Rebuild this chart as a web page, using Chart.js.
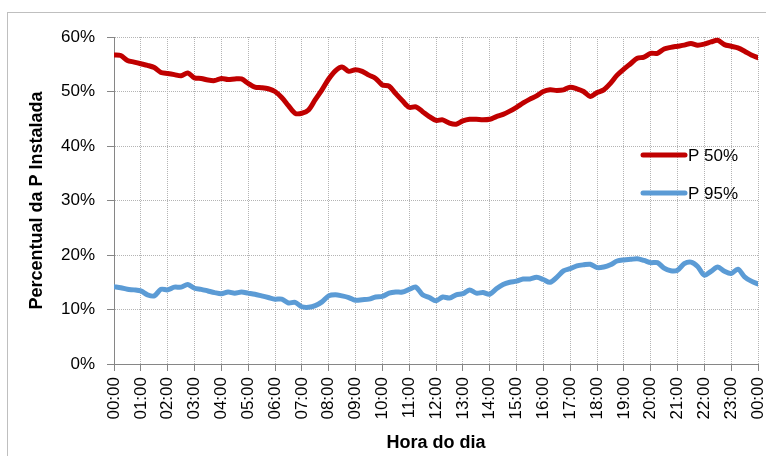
<!DOCTYPE html>
<html>
<head>
<meta charset="utf-8">
<script src="https://cdn.jsdelivr.net/npm/chart.js@4/dist/chart.umd.min.js"></script>
<style>
    body { margin: 0; background: #fff; }
    #wrap { position: relative; width: 766px; height: 456px; overflow: hidden; }
    #frame { position: absolute; left: 7px; top: 12px; width: 800px; height: 500px; border: 1px solid #bfbfbf; }
    #chart { position: absolute; left: 0; top: 0; }
</style>
</head>
<body>
<div id="wrap">
    <div id="frame"></div>
    <canvas id="chart" width="766" height="456"></canvas>
</div>
<script>
// rótulos das horas (eixo X)
const horas = ['00:00', '01:00', '02:00', '03:00', '04:00', '05:00', '06:00', '07:00', '08:00',
    '09:00', '10:00', '11:00', '12:00', '13:00', '14:00', '15:00', '16:00', '17:00',
    '18:00', '19:00', '20:00', '21:00', '22:00', '23:00', '00:00'];

// valores a cada 15 minutos, em %
const p50 = [
    56.7, 56.6, 55.7, 55.4, 55.1, 54.8, 54.4, 53.5, 53.3, 53.1, 52.9, 53.4, 52.5, 52.4, 52.1, 52.0,
    52.4, 52.2, 52.3, 52.3, 51.5, 50.8, 50.7, 50.5, 50.0, 48.9, 47.4, 46.0, 46.0, 46.6, 48.5, 50.3,
    52.3, 53.8, 54.5, 53.7, 54.0, 53.7, 53.0, 52.4, 51.2, 51.0, 49.6, 48.3, 47.1, 47.2, 46.3, 45.4,
    44.7, 44.8, 44.2, 44.0, 44.6, 44.9, 44.9, 44.8, 44.9, 45.4, 45.8, 46.4, 47.1, 47.9, 48.6, 49.2,
    50.0, 50.3, 50.2, 50.3, 50.8, 50.5, 50.0, 49.1, 49.8, 50.3, 51.5, 53.0, 54.1, 55.1, 56.1, 56.3,
    57.0, 57.0, 57.8, 58.1, 58.3, 58.5, 58.8, 58.5, 58.7, 59.1, 59.4, 58.6, 58.3, 58.0, 57.4, 56.7,
    56.2
];
const p95 = [
    14.2, 14.0, 13.7, 13.6, 13.4, 12.7, 12.5, 13.7, 13.6, 14.1, 14.1, 14.6, 13.9, 13.7, 13.4, 13.1,
    12.9, 13.2, 13.0, 13.2, 13.0, 12.8, 12.5, 12.2, 11.9, 11.9, 11.2, 11.3, 10.5, 10.4, 10.7, 11.4,
    12.5, 12.7, 12.5, 12.2, 11.7, 11.8, 11.9, 12.3, 12.4, 13.0, 13.2, 13.2, 13.7, 14.1, 12.7, 12.2,
    11.6, 12.3, 12.1, 12.7, 12.9, 13.6, 13.0, 13.1, 12.8, 13.8, 14.6, 15.0, 15.2, 15.6, 15.6, 15.9,
    15.5, 15.0, 15.9, 17.1, 17.5, 18.0, 18.2, 18.3, 17.7, 17.8, 18.2, 18.9, 19.1, 19.2, 19.3, 19.0,
    18.6, 18.6, 17.6, 17.1, 17.2, 18.4, 18.7, 17.9, 16.3, 17.0, 17.8, 17.0, 16.6, 17.4, 16.0, 15.2,
    14.7
];

const passoHoras = 0.25; // 15 minutos
const toPoints = arr => arr.map((v, i) => ({ x: i * passoHoras, y: v }));

const fonte = 'Liberation Sans, Arial, sans-serif';

// legenda desenhada dentro da área do gráfico (como no Excel)
const legendaInterna = {
    id: 'legendaInterna',
    afterDraw(chart) {
        const ctx = chart.ctx;
        const area = chart.chartArea;
        const x0 = area.right - 115;
        const ys = [area.top + 118, area.top + 156];
        ctx.save();
        chart.data.datasets.forEach((ds, i) => {
            ctx.strokeStyle = ds.borderColor;
            ctx.lineWidth = 5;
            ctx.lineCap = 'round';
            ctx.beginPath();
            ctx.moveTo(x0, ys[i]);
            ctx.lineTo(x0 + 42, ys[i]);
            ctx.stroke();
            ctx.fillStyle = '#000';
            ctx.font = '17px ' + fonte;
            ctx.textBaseline = 'middle';
            ctx.fillText(ds.label, x0 + 45, ys[i] + 1);
        });
        ctx.restore();
    }
};

new Chart(document.getElementById('chart'), {
    type: 'line',
    data: {
        datasets: [
            {
                label: 'P 50%',
                data: toPoints(p50),
                borderColor: '#C00000',
                borderWidth: 5,
                pointRadius: 0,
                tension: 0.3,
                borderCapStyle: 'round',
                borderJoinStyle: 'round'
            },
            {
                label: 'P 95%',
                data: toPoints(p95),
                borderColor: '#5B9BD5',
                borderWidth: 5,
                pointRadius: 0,
                tension: 0.3,
                borderCapStyle: 'round',
                borderJoinStyle: 'round'
            }
        ]
    },
    options: {
        responsive: false,
        animation: false,
        layout: { padding: { left: 0, right: 8, top: 37, bottom: 0 } },
        plugins: {
            legend: { display: false },
            tooltip: { enabled: false }
        },
        scales: {
            x: {
                type: 'linear',
                min: 0,
                max: 24,
                afterFit: scale => {
                    scale.height = 92;
                    scale.paddingLeft = 0;
                    scale.paddingRight = 0;
                },
                afterBuildTicks: scale => {
                    scale.ticks = horas.map((h, i) => ({ value: i }));
                },
                ticks: {
                    autoSkip: false,
                    minRotation: 90,
                    maxRotation: 90,
                    padding: 6,
                    color: '#000',
                    font: { family: fonte, size: 17 },
                    callback: value => horas[value]
                },
                grid: {
                    color: '#b4b4b4',
                    tickLength: 7,
                    tickColor: '#868686'
                },
                border: { color: '#868686', width: 1, dash: [1, 1] },
                title: {
                    display: true,
                    text: 'Hora do dia',
                    color: '#000',
                    font: { family: fonte, size: 18, weight: 'bold' },
                    padding: { top: 0, bottom: 2 }
                }
            },
            y: {
                min: 0,
                max: 60,
                afterFit: scale => { scale.width = 114; },
                ticks: {
                    stepSize: 10,
                    padding: 12,
                    color: '#000',
                    font: { family: fonte, size: 17 },
                    callback: v => v + '%'
                },
                grid: {
                    color: '#b4b4b4',
                    tickLength: 7,
                    tickColor: '#868686'
                },
                border: { color: '#868686', width: 1, dash: [1, 1] },
                title: {
                    display: true,
                    text: 'Percentual da P Instalada',
                    color: '#000',
                    font: { family: fonte, size: 18, weight: 'bold' },
                    padding: { top: 26, bottom: 0 }
                }
            }
        }
    },
    plugins: [legendaInterna]
});
</script>
</body>
</html>
